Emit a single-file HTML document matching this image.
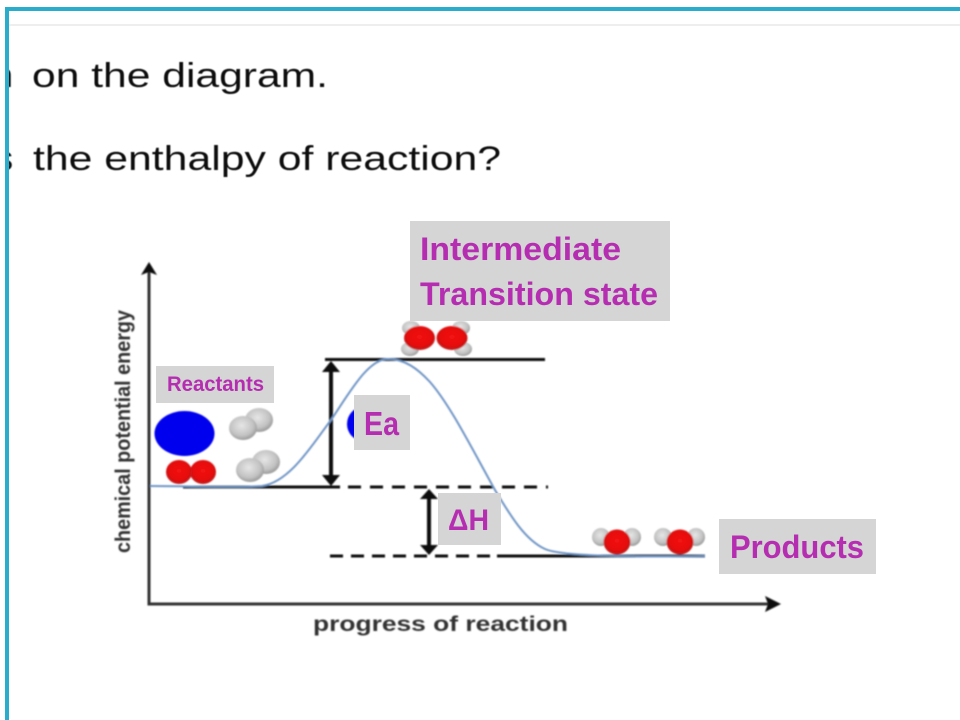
<!DOCTYPE html>
<html>
<head>
<meta charset="utf-8">
<style>
html,body{margin:0;padding:0;background:#fff;width:960px;height:720px;overflow:hidden}
svg{display:block}
text{font-family:"Liberation Sans",sans-serif}
</style>
</head>
<body>
<svg width="960" height="720" viewBox="0 0 960 720" xmlns="http://www.w3.org/2000/svg">
<defs>
<radialGradient id="r" cx="50%" cy="45%" r="55%"><stop offset="0" stop-color="#f21414"/><stop offset=".72" stop-color="#e60808"/><stop offset="1" stop-color="#b82020"/></radialGradient>
<radialGradient id="g" cx="45%" cy="40%" r="60%"><stop offset="0" stop-color="#e6e6e6"/><stop offset=".7" stop-color="#c2c2c2"/><stop offset="1" stop-color="#9a9a9a"/></radialGradient>
<filter id="b" x="-5%" y="-5%" width="110%" height="110%"><feGaussianBlur stdDeviation="0.7"/></filter>
<filter id="t" x="-5%" y="-20%" width="110%" height="140%"><feGaussianBlur stdDeviation="0.4"/></filter>
</defs>
<rect width="960" height="720" fill="#fff"/>
<rect x="9" y="24" width="951" height="2" fill="#eeeeee"/>

<g filter="url(#t)" fill="#111">
<text x="32" y="87" font-size="34" textLength="296" lengthAdjust="spacingAndGlyphs">on the diagram.</text>
<text x="33" y="170" font-size="34" textLength="468" lengthAdjust="spacingAndGlyphs">the enthalpy of reaction?</text>
<text x="-6" y="87" font-size="34">n</text>
<text x="-4" y="170" font-size="34">s</text>
</g>
<rect x="0" y="0" width="5" height="720" fill="#fff"/>

<g filter="url(#b)">
<!-- axes -->
<path d="M149 270V604H770" fill="none" stroke="#333" stroke-width="3"/>
<path d="M149 262L157 275L149 272L141 275Z" fill="#111"/>
<path d="M781 604L765 596L768 604L765 612Z" fill="#111"/>
<text transform="translate(130,553) rotate(-90)" font-size="21" font-weight="bold" fill="#333" textLength="243" lengthAdjust="spacingAndGlyphs">chemical potential energy</text>
<text x="313" y="631" font-size="21" font-weight="bold" fill="#333" textLength="255" lengthAdjust="spacingAndGlyphs">progress of reaction</text>

<!-- level lines -->
<path d="M325 359.500H545" stroke="#111" stroke-width="3"/>
<path d="M183 487H340" stroke="#111" stroke-width="3"/>
<path d="M348 487H548" stroke="#111" stroke-width="3" stroke-dasharray="13 9"/>
<path d="M330 556H497" stroke="#111" stroke-width="3" stroke-dasharray="13 8"/>
<path d="M497 556H705" stroke="#111" stroke-width="3"/>

<!-- Ea arrow -->
<path d="M331 366V482" stroke="#111" stroke-width="4"/>
<path d="M331 361L340 372H322Z" fill="#111"/>
<path d="M331 486L322 475H340Z" fill="#111"/>
<!-- dH arrow -->
<path d="M429 494V552" stroke="#111" stroke-width="4"/>
<path d="M429 489L438 499H420Z" fill="#111"/>
<path d="M429 555L420 545H438Z" fill="#111"/>

<!-- curve -->
<path d="M150 486C190 486 235 488 262 486C290 482 312 445 331 420C350 392 368 359 388 359C405 359 418 369 430 382C450 405 470 445 495 490C510 515 525 540 545 549C562 557 650 557 705 556" fill="none" stroke="#6f95c6" stroke-width="2"/>

<!-- blue atoms -->
<ellipse cx="184.500" cy="433.500" rx="30" ry="22.500" fill="#0000ee"/>
<ellipse cx="363" cy="424" rx="16" ry="17" fill="#0000ee"/>

<!-- red O2 -->
<ellipse cx="203" cy="472" rx="13" ry="12" fill="url(#r)"/>
<ellipse cx="179" cy="472" rx="13" ry="12" fill="url(#r)"/>

<!-- H2 -->
<ellipse cx="259" cy="420" rx="14" ry="12" fill="url(#g)"/>
<ellipse cx="243" cy="428" rx="14" ry="12" fill="url(#g)"/>
<ellipse cx="266" cy="462" rx="14" ry="12" fill="url(#g)"/>
<ellipse cx="250" cy="470" rx="14" ry="12" fill="url(#g)"/>

<!-- transition state -->
<ellipse cx="411" cy="328" rx="9" ry="7" fill="url(#g)"/>
<ellipse cx="410" cy="349" rx="9" ry="7" fill="url(#g)"/>
<ellipse cx="461" cy="328" rx="9" ry="7" fill="url(#g)"/>
<ellipse cx="463" cy="349" rx="9" ry="7" fill="url(#g)"/>
<ellipse cx="419.500" cy="338" rx="15.500" ry="12" fill="url(#r)"/>
<ellipse cx="452" cy="338" rx="15.500" ry="12" fill="url(#r)"/>

<!-- products -->
<circle cx="601" cy="537" r="9" fill="url(#g)"/>
<circle cx="632" cy="537" r="9" fill="url(#g)"/>
<ellipse cx="617" cy="542" rx="13.500" ry="12.500" fill="url(#r)"/>
<circle cx="663" cy="537" r="9" fill="url(#g)"/>
<circle cx="696" cy="537" r="9" fill="url(#g)"/>
<ellipse cx="680" cy="542" rx="13.500" ry="12.500" fill="url(#r)"/>
</g>

<!-- label boxes -->
<g fill="#d5d5d5">
<rect x="410" y="221" width="260" height="100"/>
<rect x="156" y="366" width="118" height="37"/>
<rect x="354" y="395" width="56" height="55"/>
<rect x="438" y="493" width="63" height="52"/>
<rect x="719" y="519" width="157" height="55"/>
</g>
<g fill="#b52db0" font-weight="bold">
<text x="420" y="260" font-size="32" textLength="201" lengthAdjust="spacingAndGlyphs">Intermediate</text>
<text x="420" y="305" font-size="32" textLength="238" lengthAdjust="spacingAndGlyphs">Transition state</text>
<text x="167" y="391" font-size="21" textLength="97" lengthAdjust="spacingAndGlyphs">Reactants</text>
<text x="364" y="435" font-size="33" textLength="35" lengthAdjust="spacingAndGlyphs">Ea</text>
<text x="448" y="530" font-size="30" textLength="41" lengthAdjust="spacingAndGlyphs">ΔH</text>
<text x="730" y="558" font-size="32" textLength="134" lengthAdjust="spacingAndGlyphs">Products</text>
</g>

<!-- frame -->
<path d="M7 720V9H960" fill="none" stroke="#2aaccd" stroke-width="4"/>
</svg>
</body>
</html>
